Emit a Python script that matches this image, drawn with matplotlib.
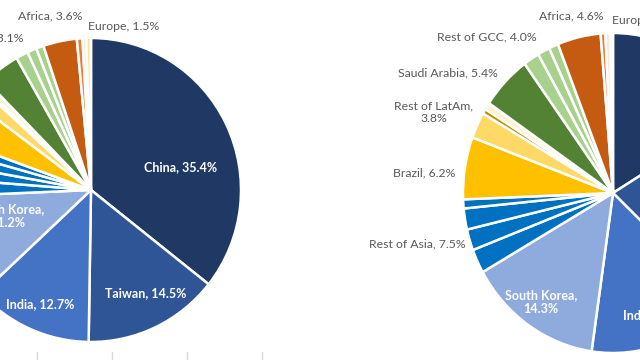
import matplotlib
matplotlib.use("Agg")
import matplotlib.pyplot as plt
from matplotlib.lines import Line2D

plt.rcParams["font.family"] = ["Lato", "DejaVu Sans"]

W, H = 640, 360

# slices clockwise from 12 o'clock
left_names = ["China", "Taiwan", "India", "South Korea",
              "Rest of Asia", "Rest of Asia", "Rest of Asia", "Rest of Asia",
              "Brazil", "Rest of LatAm", "Rest of LatAm", "Rest of LatAm",
              "Saudi Arabia", "Rest of GCC", "Rest of GCC", "Rest of GCC",
              "Africa", "Europe", "Europe", "Europe"]
left_values = [35.4, 14.5, 12.7, 11.2,
               1.9, 1.6, 1.5, 1.2,
               4.6, 1.6, 0.3, 0.6,
               4.0, 1.3, 1.0, 0.8,
               3.6, 0.6, 0.4, 0.5]

right_names = ["China", "Taiwan", "India", "South Korea",
               "Rest of Asia", "Rest of Asia", "Rest of Asia", "Rest of Asia",
               "Brazil", "Rest of LatAm", "Rest of LatAm", "Rest of LatAm",
               "Saudi Arabia", "Rest of GCC", "Rest of GCC", "Rest of GCC",
               "Africa", "Europe", "Europe", "Europe"]
right_values = [16.2, 20.3, 15.1, 14.3,
                2.4, 2.1, 2.1, 0.9,
                6.2, 2.6, 0.5, 0.7,
                5.4, 1.7, 1.3, 1.0,
                4.6, 0.5, 0.5, 0.3]

# colour per slice (same order as the names)
slice_colors = ["#1F3864", "#2F5597", "#4472C4", "#8FAADC",
                "#0070C0", "#0070C0", "#0070C0", "#0070C0",
                "#FFC000", "#FFD966", "#BF9000", "#FFF2CC",
                "#548235", "#A9D18E", "#A9D18E", "#A9D18E",
                "#C55A11", "#ED7D31", "#FBE5D6", "#FFE699"]
inside = {"China", "Taiwan", "India", "South Korea"}


def group_total(names, values, key):
    return sum(v for n, v in zip(names, values) if n == key)


def label_text(names, values, key, wrap=False):
    sep = ",\n" if wrap else ", "
    return f"{key}{sep}{group_total(names, values, key):.1f}%"


fig = plt.figure(figsize=(W / 100, H / 100), dpi=100)


def draw_pie(cx, cy, a, b, values):
    ax = fig.add_axes([(cx - a) / W, (H - cy - b) / H, 2 * a / W, 2 * b / H])
    ax.pie(values, colors=slice_colors, startangle=90, counterclock=False,
           wedgeprops=dict(edgecolor="white", linewidth=1.8))
    ax.set_aspect("auto")
    ax.set_xlim(-1, 1)
    ax.set_ylim(-1, 1)
    ax.axis("off")
    return ax


draw_pie(91, 190, 150, 152, left_values)
draw_pie(613, 193, 150, 160, right_values)

# label layout: (name, x px, y px, ha, wrapped)
left_labels = [("China", 181, 167, "center", False),
               ("Taiwan", 146, 293, "center", False),
               ("India", 40, 304, "center", False),
               ("South Korea", 8, 216, "center", True),
               ("Rest of GCC", 23, 38, "right", False),
               ("Africa", 50, 16, "center", False),
               ("Europe", 124, 26, "center", False)]
right_labels = [("China", 705, 100, "center", False),
                ("Taiwan", 725, 200, "center", False),
                ("India", 623, 315, "left", False),
                ("South Korea", 541, 302, "center", True),
                ("Rest of Asia", 417, 244, "center", False),
                ("Brazil", 424, 173, "center", False),
                ("Rest of LatAm", 434, 112, "center", True),
                ("Saudi Arabia", 448, 73, "center", False),
                ("Rest of GCC", 487, 37, "center", False),
                ("Africa", 571, 16, "center", False),
                ("Europe", 612, 20, "left", False)]

for names, values, layout in [(left_names, left_values, left_labels),
                              (right_names, right_values, right_labels)]:
    for key, x, y, ha, wrap in layout:
        is_in = key in inside
        fig.text(x / W, 1 - y / H, label_text(names, values, key, wrap),
                 ha=ha, va="center", multialignment="center",
                 fontsize=9 if is_in else 8.8, linespacing=1.2,
                 color="white" if is_in else "#595959",
                 fontweight="bold" if is_in else "normal")

# bits of the grid below the left chart
for x in [37, 112, 187, 262]:
    fig.add_artist(Line2D([x / W, x / W], [0, 8 / H], color="#D9D9D9", lw=1))

fig.savefig("out.png", dpi=100)
